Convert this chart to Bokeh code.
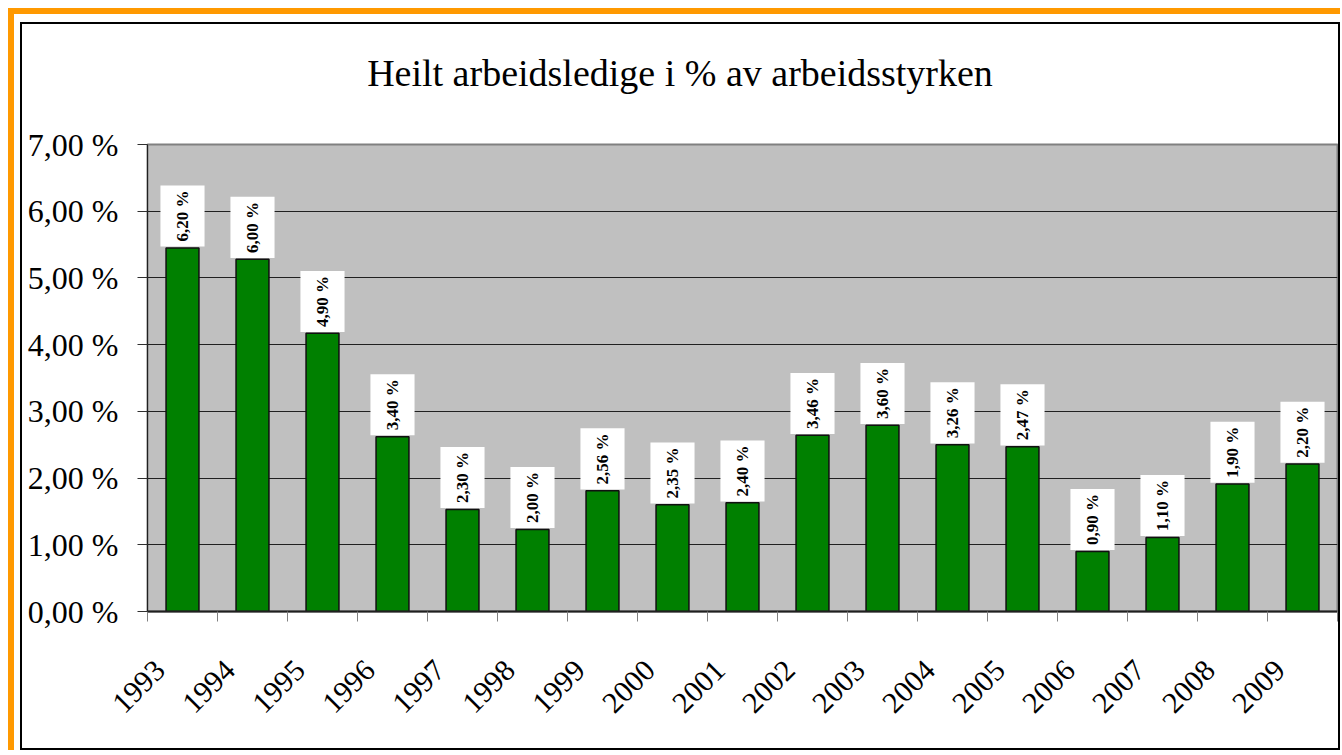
import math
from bokeh.plotting import figure
from bokeh.models import Range1d, FixedTicker, Div
from bokeh.layouts import column
from bokeh.core.properties import value
from bokeh.embed import file_html
from bokeh.resources import INLINE

# ---- data ----
years = ["1993", "1994", "1995", "1996", "1997", "1998", "1999", "2000", "2001",
         "2002", "2003", "2004", "2005", "2006", "2007", "2008", "2009"]
bar_values = [5.45, 5.28, 4.17, 2.62, 1.53, 1.23, 1.81, 1.60, 1.63,
              2.64, 2.79, 2.50, 2.47, 0.90, 1.11, 1.91, 2.21]
label_texts = ["6,20 %", "6,00 %", "4,90 %", "3,40 %", "2,30 %", "2,00 %", "2,56 %",
               "2,35 %", "2,40 %", "3,46 %", "3,60 %", "3,26 %", "2,47 %", "0,90 %",
               "1,10 %", "1,90 %", "2,20 %"]
y_ticks = [0, 1, 2, 3, 4, 5, 6, 7]
y_tick_labels = ["0,00 %", "1,00 %", "2,00 %", "3,00 %", "4,00 %", "5,00 %", "6,00 %", "7,00 %"]
title_text = "Heilt arbeidsledige i % av arbeidsstyrken"

n = len(years)
centers = [i + 0.5 for i in range(n)]
boundaries = list(range(n + 1))
label_pos = [c - 0.32 for c in centers]

BOX_W = 0.63
BOX_H = 0.915

W = 1316
TITLE_H = 100

title_div = Div(text=title_text, width=W, height=TITLE_H,
                styles={"font-family": "'Liberation Serif', serif", "font-size": "38px",
                        "text-align": "center", "line-height": "98px",
                        "color": "black", "background": "white", "margin": "0",
                        "padding": "0", "white-space": "nowrap"})

p = figure(width=W, height=624, output_backend="svg", toolbar_location=None,
           x_range=Range1d(0, n), y_range=Range1d(0, 7),
           min_border_left=125, min_border_top=20, min_border_right=1,
           min_border_bottom=137)

p.background_fill_color = "#C0C0C0"
p.border_fill_color = "white"
p.outline_line_color = "#808080"
p.outline_line_width = 2

# y axis
p.yaxis.ticker = FixedTicker(ticks=y_ticks)
p.yaxis.major_label_overrides = {t: l for t, l in zip(y_ticks, y_tick_labels)}
p.yaxis.major_label_text_font = "Liberation Serif"
p.yaxis.major_label_text_font_size = "32px"
p.yaxis.major_label_text_color = "black"
p.yaxis.major_tick_out = 10
p.yaxis.major_tick_in = 0
p.yaxis.minor_tick_out = 0
p.yaxis.minor_tick_in = 0
p.yaxis.major_tick_line_color = "#303030"
p.yaxis.axis_line_color = "#202020"
p.yaxis.major_label_standoff = 19

# x axis
p.xaxis.ticker = FixedTicker(ticks=label_pos, minor_ticks=boundaries)
p.xaxis.major_label_overrides = {c: y for c, y in zip(label_pos, years)}
p.xaxis.major_label_orientation = math.pi / 4
p.xaxis.major_label_text_font = "Liberation Serif"
p.xaxis.major_label_text_font_size = "30px"
p.xaxis.major_label_text_color = "black"
p.xaxis.major_tick_out = 0
p.xaxis.major_tick_in = 0
p.xaxis.minor_tick_out = 10
p.xaxis.minor_tick_in = 0
p.xaxis.minor_tick_line_color = "#808080"
p.xaxis.axis_line_color = "#202020"
p.xaxis.axis_line_width = 2
p.xaxis.major_label_standoff = 44

p.xgrid.grid_line_color = None
p.ygrid.ticker = FixedTicker(ticks=y_ticks)
p.ygrid.grid_line_color = "#202020"
p.ygrid.grid_line_width = 1

p.vbar(x=centers, top=bar_values, width=0.47, bottom=0,
       fill_color="#008000", line_color="#101010", line_width=1.5)

p.quad(left=[c - BOX_W / 2 for c in centers], right=[c + BOX_W / 2 for c in centers],
       bottom=[v + 0.02 for v in bar_values], top=[v + 0.02 + BOX_H for v in bar_values],
       fill_color="white", line_color=None)

p.text(x=centers, y=[v + 0.02 + BOX_H / 2 for v in bar_values], text=label_texts,
       angle=math.pi / 2, text_align="center", text_baseline="middle",
       text_font=value("Liberation Serif"), text_font_style="bold",
       text_font_size="17px", text_color="black")

inner = column(title_div, p, spacing=0, styles={"border": "2px solid #000000",
                                               "background": "white"})

layout = column(inner, styles={"border-left": "6px solid #FF9900",
                               "border-top": "6px solid #FF9900",
                               "padding-left": "6px", "padding-top": "8px",
                               "margin-left": "8px", "margin-top": "8px"})

open("out.html", "w").write(file_html(layout, INLINE))
